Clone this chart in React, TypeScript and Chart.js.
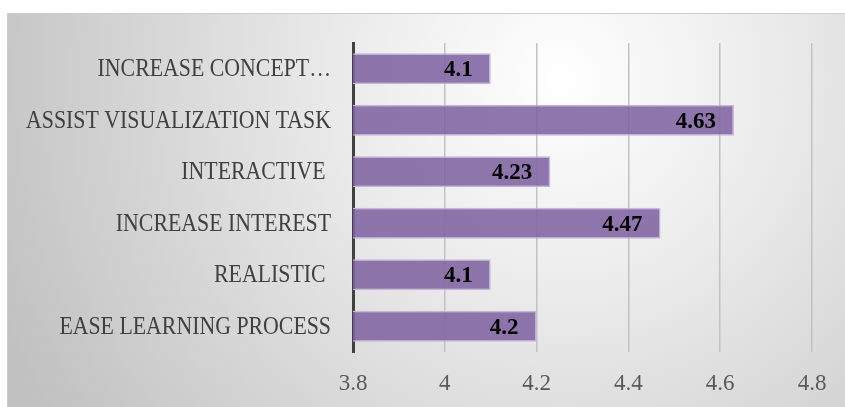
import React, { useEffect, useRef } from "react";
import { Chart, registerables } from "chart.js";

Chart.register(...registerables);

const categories = [
  "INCREASE CONCEPT…",
  "ASSIST VISUALIZATION TASK",
  "INTERACTIVE ",
  "INCREASE INTEREST",
  "REALISTIC ",
  "EASE LEARNING PROCESS",
];
const values = [4.1, 4.63, 4.23, 4.47, 4.1, 4.2];
const xMin = 3.8;
const xMax = 4.8;
const xStep = 0.2;

const SERIF = "'Liberation Serif', 'DejaVu Serif', serif";

const backgroundPlugin = {
  id: "bgFrame",
  beforeDraw(chart: any) {
    const { ctx, width, height } = chart;
    ctx.save();
    ctx.fillStyle = "#ffffff";
    ctx.fillRect(0, 0, width, height);
    const x0 = 7, y0 = 13;
    const g = ctx.createRadialGradient(560, 80, 0, 560, 80, 620);
    g.addColorStop(0, "#ffffff");
    g.addColorStop(0.35, "#ebebeb");
    g.addColorStop(1, "#c0c0c0");
    ctx.fillStyle = g;
    ctx.fillRect(x0, y0, width - x0, height - y0);
    ctx.strokeStyle = "#cdcdcd";
    ctx.lineWidth = 1;
    ctx.strokeRect(x0 + 0.5, y0 + 0.5, width - x0, height - y0);
    ctx.restore();
  },
};

const categoryLabelPlugin = {
  id: "categoryLabels",
  afterDraw(chart: any) {
    const { ctx, chartArea } = chart;
    const yScale = chart.scales.y;
    ctx.save();
    ctx.font = `25px ${SERIF}`;
    ctx.fillStyle = "#404040";
    ctx.textAlign = "right";
    ctx.textBaseline = "middle";
    const ref = ctx.measureText("ASSIST VISUALIZATION TASK").width;
    const sx = 305 / ref;
    (chart.data.labels as string[]).forEach((label, i) => {
      const y = yScale.getPixelForValue(i);
      ctx.save();
      ctx.translate(chartArea.left - 22, y + 1);
      ctx.scale(sx, 1);
      ctx.fillText(label, 0, 0);
      ctx.restore();
    });
    ctx.restore();
  },
};

const dataLabelPlugin = {
  id: "barValueLabels",
  afterDatasetsDraw(chart: any) {
    const { ctx } = chart;
    const meta = chart.getDatasetMeta(0);
    const data = chart.data.datasets[0].data as number[];
    ctx.save();
    ctx.font = `bold 23px ${SERIF}`;
    ctx.fillStyle = "#000000";
    ctx.textAlign = "right";
    ctx.textBaseline = "middle";
    meta.data.forEach((bar: any, i: number) => {
      ctx.fillText(String(data[i]), bar.x - 18, bar.y + 1.5);
    });
    ctx.restore();
  },
};

export default function App() {
  const canvasRef = useRef<HTMLCanvasElement | null>(null);

  useEffect(() => {
    document.body.style.margin = "0";
    const canvas = canvasRef.current;
    if (!canvas) return;
    const chart = new Chart(canvas, {
      type: "bar",
      data: {
        labels: categories,
        datasets: [
          {
            data: values,
            backgroundColor: "rgba(128,100,162,0.88)",
            borderColor: "#c4b6d9",
            borderWidth: 1.5,
            categoryPercentage: 1,
            barPercentage: 0.6,
          },
        ],
      },
      options: {
        indexAxis: "y",
        responsive: false,
        animation: false,
        devicePixelRatio: 1,
        layout: { padding: { left: 8, right: 33, top: 43, bottom: 0 } },
        plugins: {
          legend: { display: false },
          tooltip: { enabled: false },
        },
        scales: {
          x: {
            type: "linear",
            min: xMin,
            max: xMax,
            afterFit: (scale: any) => {
              scale.height = 55;
            },
            ticks: {
              stepSize: xStep,
              padding: 18,
              color: "#595959",
              font: { family: SERIF, size: 23 },
              callback: (v: any) => String(Number(Number(v).toFixed(1))),
            },
            grid: {
              color: "#c2c2c2",
              lineWidth: 1.5,
              drawTicks: false,
            },
            border: { display: false },
          },
          y: {
            afterFit: (scale: any) => {
              scale.width = 345;
            },
            ticks: { display: false },
            grid: { display: false, drawTicks: false },
            border: { display: true, color: "#404040", width: 3 },
          },
        },
      },
      plugins: [backgroundPlugin, dataLabelPlugin, categoryLabelPlugin],
    });
    return () => chart.destroy();
  }, []);

  return (
    <div style={{ width: 845, height: 407 }}>
      <canvas ref={canvasRef} width={845} height={407} style={{ display: "block" }} />
    </div>
  );
}
